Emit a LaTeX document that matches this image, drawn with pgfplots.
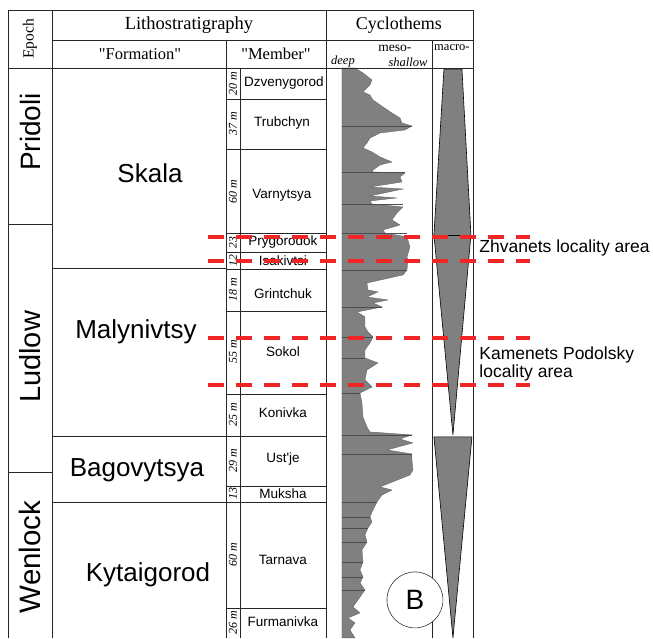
\documentclass[border=0pt]{standalone}
\usepackage{fontspec}
\setmainfont{Liberation Serif}
\newfontfamily\arial{Liberation Sans}
\newfontfamily\qserif{Liberation Serif}
\usepackage{pgfplots}
\pgfplotsset{compat=1.18}
\definecolor{fillgray}{RGB}{128,128,128}
\definecolor{dashred}{RGB}{240,38,38}
\newcommand{\fs}[1]{\fontsize{#1}{#1}\selectfont}

\begin{document}
\begin{tikzpicture}
\begin{axis}[
  width=653pt, height=638pt, scale only axis,
  xmin=0, xmax=653, ymin=0, ymax=638, y dir=reverse,
  hide axis, clip=false, unbounded coords=jump,
]
\path (axis cs:0,0) rectangle (axis cs:653,638);

% meso- cyclothem curve (right edge)
\addplot[fill=fillgray, draw=black!60, line width=0.4pt] coordinates {
 (342,68)(355,68)(363,73)(372,80)(370,85)(363,92)(370,95)(373,100)(383,107)
 (392,113)(400,118)(402,123)(412,126)(405,130)(380,133)(370,138)(367,143)
 (363,148)(372,152)(380,157)(392,162)(380,165)(373,170)(373,172)(405,173)
 (400,177)(402,182)(370,187)(403,189)(370,196)(397,198)(370,201)(372,204)
 (403,207)(397,213)(392,220)(400,225)(383,230)(385,233)(407,237)(410,247)
 (407,257)(408,260)(407,270)(403,275)(367,283)(368,290)(378,292)(367,297)
 (388,300)(373,303)(382,307)(357,312)(365,317)(365,327)(368,332)(373,337)
 (370,343)(365,350)(365,358)(378,363)(367,370)(365,380)(372,387)(360,393)
 (362,403)(363,417)(367,427)(370,432)(412,435)(400,439)(413,443)(387,450)
 (412,454)(412,460)(413,470)(410,475)(380,487)(392,490)(382,495)(377,502)
 (373,510)(370,517)(372,522)(368,528)(365,535)(367,542)(362,550)(363,562)
 (360,570)(363,577)(360,583)(365,590)(358,600)(353,607)(360,613)(348,618)
 (355,623)(350,630)(355,638)(342,638)
} -- cycle;
% cycle boundaries inside the curve
\addplot[black!70, line width=0.6pt] coordinates {
 (342,126)(412,126) (nan,nan) (342,172)(405,172) (nan,nan)
 (342,204)(403,204) (nan,nan) (342,233)(407,233) (nan,nan)
 (342,270)(407,270) (nan,nan) (342,307)(382,307) (nan,nan)
 (342,337)(373,337) (nan,nan) (342,358)(365,358) (nan,nan)
 (342,393)(360,393) (nan,nan) (342,435)(412,435) (nan,nan)
 (342,454)(412,454) (nan,nan) (342,502)(377,502) (nan,nan)
 (342,517)(370,517) (nan,nan) (342,528)(368,528) (nan,nan)
 (342,542)(367,542) (nan,nan) (342,562)(363,562) (nan,nan)
 (342,577)(363,577) (nan,nan) (342,590)(365,590)
};

% macro- cyclothems
\addplot[fill=fillgray, draw=black, line width=0.6pt] coordinates {
 (444,69)(462,69)(471,235)(453,435)(434,235)} -- cycle;
\addplot[black, line width=0.6pt] coordinates {(434,235)(471,235)};
\addplot[fill=fillgray, draw=black, line width=0.6pt] coordinates {
 (434,437)(472,437)(453,638)} -- cycle;

% table frame
\addplot[black!85, line width=0.8pt] coordinates {
 (8,638)(8,10)(473,10)(473,638) (nan,nan)
 (52,10)(52,638) (nan,nan)
 (326,10)(326,638) (nan,nan)
 (52,40)(473,40) (nan,nan)
 (8,68)(473,68) (nan,nan)
 (226,40)(226,638) (nan,nan)
 (432,40)(432,638) (nan,nan)
 (240,68)(240,638) (nan,nan)
 (8,224)(52,224) (nan,nan) (8,472)(52,472) (nan,nan)
 (52,268)(226,268) (nan,nan) (52,436)(226,436) (nan,nan) (52,502)(226,502) (nan,nan)
 (226,99)(326,99) (nan,nan) (226,149)(326,149) (nan,nan) (226,233)(326,233) (nan,nan)
 (226,252)(326,252) (nan,nan) (226,269)(326,269) (nan,nan) (226,311)(326,311) (nan,nan)
 (226,394)(326,394) (nan,nan) (226,436)(326,436) (nan,nan) (226,486)(326,486) (nan,nan)
 (226,502)(326,502) (nan,nan) (226,608)(326,608)
};

% headers
\node[font=\fs{18.5}] at (axis cs:189,25) {Lithostratigraphy};
\node[font=\qserif\fs{16.5}] at (axis cs:140,54) {"Formation"};
\node[font=\qserif\fs{16.5}] at (axis cs:276,54) {"Member"};
\node[font=\fs{15.5},rotate=90] at (axis cs:30,39) {Epoch};
\node[font=\fs{18}] at (axis cs:399,25) {Cyclothems};
\node[font=\fs{13.5}] at (axis cs:395,48) {meso-};
\node[font=\fs{12.5}] at (axis cs:452,48) {macro-};
\node[font=\itshape\fs{12.5}] at (axis cs:343,62) {deep};
\node[font=\itshape\fs{12.5}] at (axis cs:408,62) {shallow};

% epochs
\node[font=\arial\fs{28},rotate=90] at (axis cs:30,132) {Pridoli};
\node[font=\arial\fs{29},rotate=90] at (axis cs:30,357) {Ludlow};
\node[font=\arial\fs{29.5},rotate=90] at (axis cs:30,557) {Wenlock};

% formations
\node[font=\arial\fs{26}] at (axis cs:150,173) {Skala};
\node[font=\arial\fs{26}] at (axis cs:136,332) {Malynivtsy};
\node[font=\arial\fs{26}] at (axis cs:137,470) {Bagovytsya};
\node[font=\arial\fs{26}] at (axis cs:148,575) {Kytaigorod};

% members
\node[font=\arial\fs{13.5}] at (axis cs:284,83) {Dzvenygorod};
\node[font=\arial\fs{13.5}] at (axis cs:282,123) {Trubchyn};
\node[font=\arial\fs{13.5}] at (axis cs:282,195) {Varnytsya};
\node[font=\arial\fs{13.5}] at (axis cs:283,242) {Prygorodok};
\node[font=\arial\fs{13.5}] at (axis cs:283,261) {Isakivtsi};
\node[font=\arial\fs{13.5}] at (axis cs:283,294) {Grintchuk};
\node[font=\arial\fs{13.5}] at (axis cs:283,352) {Sokol};
\node[font=\arial\fs{13.5}] at (axis cs:283,413) {Konivka};
\node[font=\arial\fs{13.5}] at (axis cs:283,459) {Ust'je};
\node[font=\arial\fs{13.5}] at (axis cs:283,494) {Muksha};
\node[font=\arial\fs{13.5}] at (axis cs:283,560) {Tarnava};
\node[font=\arial\fs{13.5}] at (axis cs:283,622) {Furmanivka};

% thicknesses
\node[font=\itshape\fs{12},rotate=90] at (axis cs:233,84) {20 m};
\node[font=\itshape\fs{12},rotate=90] at (axis cs:233,124) {37 m};
\node[font=\itshape\fs{12},rotate=90] at (axis cs:233,192) {60 m};
\node[font=\itshape\fs{11.5},rotate=90] at (axis cs:233,243) {23};
\node[font=\itshape\fs{11.5},rotate=90] at (axis cs:233,261) {12};
\node[font=\itshape\fs{12},rotate=90] at (axis cs:233,290) {18 m};
\node[font=\itshape\fs{12},rotate=90] at (axis cs:233,352) {55 m};
\node[font=\itshape\fs{12},rotate=90] at (axis cs:233,415) {25 m};
\node[font=\itshape\fs{12},rotate=90] at (axis cs:233,461) {29 m};
\node[font=\itshape\fs{12},rotate=90] at (axis cs:233,494) {13};
\node[font=\itshape\fs{12},rotate=90] at (axis cs:233,555) {60 m};
\node[font=\itshape\fs{12},rotate=90] at (axis cs:233,623) {26 m};

% B label
\node[circle, draw=black!80, line width=0.6pt, fill=white, minimum size=56pt,
      inner sep=0pt, font=\arial\fs{28}] at (axis cs:415,600) {B};

% locality dashed lines
\addplot[dashred, line width=3.5pt, dash pattern=on 16pt off 12pt] coordinates {
 (208,237)(530,237) (nan,nan) (208,261)(530,261) (nan,nan)
 (208,338)(530,338) (nan,nan) (208,385)(530,385)
};
\node[font=\arial\fs{17.5}, anchor=west] at (axis cs:476,248) {Zhvanets locality area};
\node[font=\arial\fs{17.5}, anchor=west, align=left] at (axis cs:476,364)
  {Kamenets Podolsky\\locality area};
\end{axis}
\end{tikzpicture}
\end{document}
